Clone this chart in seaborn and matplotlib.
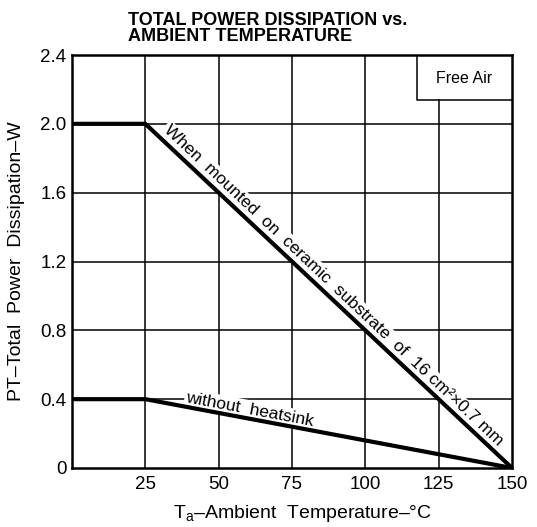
import numpy as np
import pandas as pd
import matplotlib
matplotlib.use("Agg")
import matplotlib.pyplot as plt
import seaborn as sns

# curve data
temp_c = [0, 25, 150]
power_ceramic = [2.0, 2.0, 0.0]
power_no_sink = [0.4, 0.4, 0.0]

x_ticks = [25, 50, 75, 100, 125, 150]
y_ticks = [0, 0.4, 0.8, 1.2, 1.6, 2.0, 2.4]
y_tick_labels = ["0", "0.4", "0.8", "1.2", "1.6", "2.0", "2.4"]

sns.set_style("white")
plt.rcParams["font.family"] = ["Liberation Sans", "DejaVu Sans"]
plt.rcParams["mathtext.fontset"] = "custom"
plt.rcParams["mathtext.rm"] = "Liberation Sans"
plt.rcParams["text.color"] = "black"
plt.rcParams["axes.labelcolor"] = "black"
plt.rcParams["xtick.color"] = "black"
plt.rcParams["ytick.color"] = "black"

df = pd.DataFrame({
    "temp": temp_c * 2,
    "power": power_ceramic + power_no_sink,
    "curve": ["ceramic"] * 3 + ["none"] * 3,
})

fig = plt.figure(figsize=(5.37, 5.27), dpi=100)
ax = fig.add_axes([72 / 537, 1 - 468 / 527, 440 / 537, 413 / 527])

sns.lineplot(data=df, x="temp", y="power", units="curve", estimator=None,
             color="black", linewidth=3.0, ax=ax, legend=False, zorder=3)

ax.set_xlim(0, 150)
ax.set_ylim(0, 2.4)
ax.set_xticks(x_ticks)
ax.set_yticks(y_ticks)
ax.set_yticklabels(y_tick_labels)
ax.tick_params(axis="both", length=0, labelsize=13.5)
ax.tick_params(axis="x", pad=6)
ax.tick_params(axis="y", pad=4)

# grid, except the part hidden by the Free Air box
for xv in x_ticks[:-1]:
    top = 2.14 if xv > 117 else 2.4
    ax.plot([xv, xv], [0, top], color="black", lw=1.1, zorder=1)
for yv in y_ticks[1:-1]:
    ax.plot([0, 150], [yv, yv], color="black", lw=1.1, zorder=1)

for s in ax.spines.values():
    s.set_linewidth(1.8)
    s.set_color("black")
    s.set_zorder(4)

ax.plot([117.5, 117.5, 150], [2.4, 2.14, 2.14], color="black", lw=1.1, zorder=1)
ax.text(133.5, 2.265, "Free Air", ha="center", va="center", fontsize=11.5)

ax.set_xlabel("T$_\\mathrm{a}$\u2013Ambient  Temperature\u2013\u00b0C", fontsize=14, labelpad=7)
ax.xaxis.label.set_x(0.523)
ax.set_ylabel("PT\u2013Total  Power  Dissipation\u2013W", fontsize=14, labelpad=11)

# labels along the curves, baseline just above the line
ax.annotate("When  mounted  on  ceramic  substrate  of  16 cm\u00b2\u00d70.7 mm",
            xy=(86.5, 2.0 * (150 - 86.5) / 125), xytext=(3.0, 3.2), textcoords="offset points",
            rotation=-43.3, rotation_mode="anchor", ha="center", va="baseline",
            fontsize=12.5, zorder=2,
            bbox=dict(boxstyle="square,pad=0.1", fc="white", ec="none"))
ax.annotate("without  heatsink",
            xy=(60.1, 0.4 * (150 - 60.1) / 125), xytext=(0.7, 3.2), textcoords="offset points",
            rotation=-10.7, rotation_mode="anchor", ha="center", va="baseline",
            fontsize=12.5, zorder=2,
            bbox=dict(boxstyle="square,pad=0.1", fc="white", ec="none"))

fig.text(128 / 537, 1 - 12 / 527, "TOTAL POWER DISSIPATION vs.\nAMBIENT TEMPERATURE",
         ha="left", va="top", fontsize=13, fontweight="bold", linespacing=0.95)

fig.savefig("out.png", dpi=100)
